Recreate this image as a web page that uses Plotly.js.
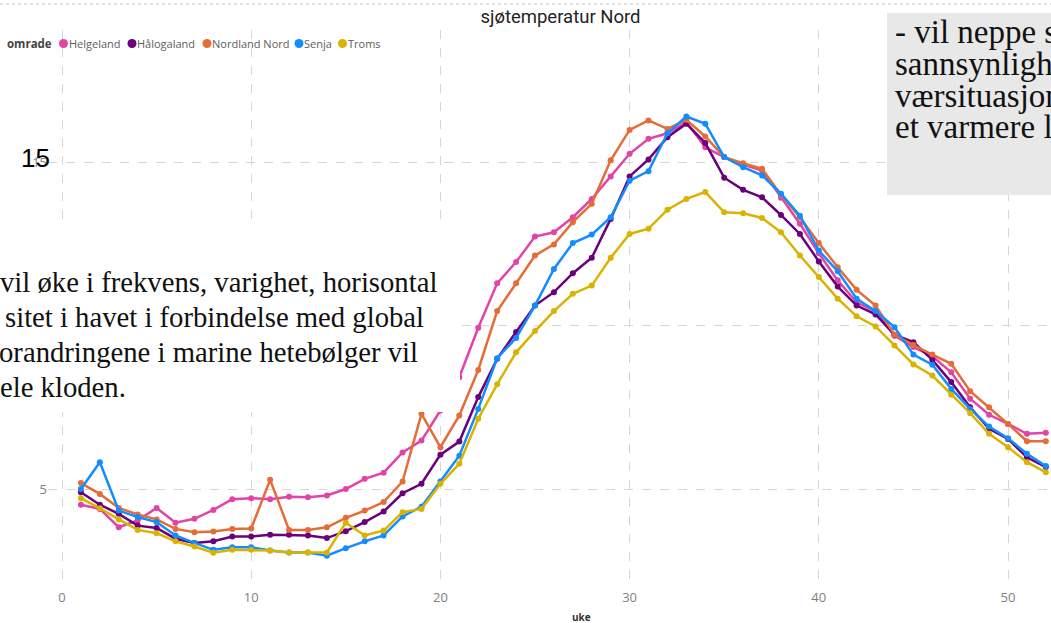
<!DOCTYPE html>
<html>
<head>
<meta charset="utf-8">
<script src="https://cdn.plot.ly/plotly-3.0.1.min.js"></script>
<style>
  html, body { margin: 0; padding: 0; background: #ffffff; overflow: hidden; }
  #chart { width: 1051px; height: 623px; }
</style>
</head>
<body>
<div id="chart"></div>
<script>
// ---------- data ----------
const weeks = [1,2,3,4,5,6,7,8,9,10,11,12,13,14,15,16,17,18,19,20,21,22,23,24,25,26,
               27,28,29,30,31,32,33,34,35,36,37,38,39,40,41,42,43,44,45,46,47,48,49,50,51,52];

const seriesNames = ["Helgeland", "Hålogaland", "Nordland Nord", "Senja", "Troms"];
const seriesColors = ["#E044A7", "#6B007B", "#E66C37", "#118DFF", "#D9B300"];

const helgeland = [4.52,4.39,3.83,4.04,4.42,3.97,4.09,4.36,4.69,4.72,4.69,4.76,4.75,4.80,5.00,5.31,5.50,6.12,6.48,7.40,
                   8.42,9.93,11.29,11.94,12.72,12.85,13.31,13.87,14.56,15.25,15.71,15.88,16.22,15.45,15.15,14.92,14.74,
                   13.91,13.11,12.21,11.38,10.71,10.43,9.69,9.34,9.06,8.57,7.76,7.27,6.99,6.69,6.72];

const haalogaland = [4.90,4.52,4.24,3.88,3.81,3.48,3.35,3.40,3.55,3.55,3.60,3.60,3.58,3.50,3.71,3.99,4.31,4.87,5.16,6.05,
                     6.45,7.81,8.98,9.80,10.61,11.02,11.60,12.07,13.26,14.56,15.08,15.76,16.17,15.58,14.52,14.15,13.92,
                     13.38,12.80,11.96,11.19,10.61,10.34,9.72,9.49,8.95,8.27,7.50,6.84,6.53,5.97,5.67];

const nordlandNord = [5.18,4.85,4.42,4.22,4.07,3.78,3.68,3.70,3.78,3.79,5.28,3.75,3.75,3.83,4.12,4.34,4.60,5.23,7.30,6.28,
                      7.25,8.64,10.44,11.29,12.14,12.48,13.16,13.72,15.05,15.98,16.27,16.01,16.29,15.78,15.15,14.96,14.79,
                      14.00,13.31,12.52,11.78,11.09,10.61,9.72,9.40,9.11,8.83,7.99,7.50,6.99,6.46,6.46];

const senja = [5.00,5.82,4.34,4.14,3.99,3.58,3.35,3.14,3.22,3.22,3.12,3.06,3.06,2.96,3.19,3.40,3.58,4.16,4.46,5.23,
               6.02,7.45,9.00,9.62,10.61,11.73,12.52,12.78,13.31,14.43,14.72,15.88,16.39,16.17,15.15,14.84,14.59,
               14.03,13.36,12.29,11.66,10.82,10.44,9.95,9.11,8.80,8.06,7.45,6.91,6.55,6.08,5.70];

const troms = [4.72,4.41,4.07,3.75,3.65,3.40,3.24,3.05,3.14,3.14,3.12,3.06,3.06,3.06,3.97,3.58,3.73,4.29,4.39,5.16,
               5.77,7.15,8.20,9.18,9.83,10.44,10.97,11.22,12.07,12.80,12.96,13.54,13.87,14.08,13.46,13.43,13.29,
               12.85,12.14,11.48,10.82,10.28,9.97,9.39,8.81,8.47,7.88,7.32,6.69,6.28,5.82,5.51];

const seriesValues = [helgeland, haalogaland, nordlandNord, senja, troms];

const yTickVals = [5, 10, 15];
const yTickText = ["5", "", "15"];   // "10" is hidden behind the slide text box in the reference

const chartTitle = "sjøtemperatur Nord";
const legendTitle = "omrade";
const xAxisTitle = "uke";
const overlayNumber = "15";
const leftTextLines = ["vil øke i frekvens, varighet, horisontal",
                       "sitet i havet i forbindelse med global",
                       "orandringene i marine hetebølger vil",
                       "ele kloden."];
const rightTextLines = ["- vil neppe s", "sannsynligh", "værsituasjon", "et varmere l"];

// ---------- layout helpers (pixel -> paper) ----------
const W = 1051, H = 623;
const M = {l: 48, r: 0, t: 30, b: 35};
const PW = W - M.l - M.r, PH = H - M.t - M.b;
const px = x => (x - M.l) / PW;
const py = y => (H - M.b - y) / PH;

// axis ranges chosen so the grid lands where the reference has it
const X0PX = 62, XSTEP = 18.92;     // week 0 at 62px, 18.92px per week
const Y0PX = 652.5, YSTEP = 32.7;   // 0 °C at 652.5px, 32.7px per degree
const xRange = [(M.l - X0PX) / XSTEP, (W - M.r - X0PX) / XSTEP];
const yRange = [(Y0PX - (H - M.b)) / YSTEP, (Y0PX - M.t) / YSTEP];

// ---------- traces ----------
const traces = seriesNames.map((name, i) => ({
  type: "scatter",
  mode: "lines+markers",
  name: name,
  x: weeks,
  y: seriesValues[i],
  line: {color: seriesColors[i], width: 2.5},
  marker: {color: seriesColors[i], size: 6},
  showlegend: false,
  hoverinfo: "skip"
}));

// ---------- annotations ----------
const annotations = [];
const shapes = [];

// legend row (Power BI style): title, then dot + name per series
const LEG_Y = 43.5;
const legendFont = {family: "Open Sans, Noto Sans, sans-serif", size: 11, color: "#605E5C"};
annotations.push({
  xref: "paper", yref: "paper", x: px(6), y: py(LEG_Y), xanchor: "left", yanchor: "middle",
  text: "<b>" + legendTitle + "</b>", showarrow: false, borderpad: 0,
  font: {family: "Open Sans, Noto Sans, sans-serif", size: 11.5, color: "#444444"}
});
const legendDotX = [63.5, 132, 207, 299, 342.5];
seriesNames.forEach((n, i) => {
  shapes.push({
    type: "circle", xref: "paper", yref: "paper",
    x0: px(legendDotX[i] - 4.5), x1: px(legendDotX[i] + 4.5),
    y0: py(LEG_Y + 4.5), y1: py(LEG_Y - 4.5),
    fillcolor: seriesColors[i], line: {width: 0}, layer: "above"
  });
  annotations.push({
    xref: "paper", yref: "paper", x: px(legendDotX[i] + 4), y: py(LEG_Y), xanchor: "left", yanchor: "middle",
    text: n, showarrow: false, font: legendFont, borderpad: 0
  });
});

// x-axis title
annotations.push({
  xref: "paper", yref: "paper", x: px(581), y: py(617), xanchor: "center", yanchor: "middle",
  text: "<b>" + xAxisTitle + "</b>", showarrow: false,
  font: {family: "Open Sans, Noto Sans, sans-serif", size: 10, color: "#333333"}
});

// large overlaid "15"
annotations.push({
  xref: "paper", yref: "paper", x: px(35), y: py(158), xanchor: "center", yanchor: "middle",
  text: overlayNumber, showarrow: false,
  font: {family: "Liberation Sans, Arial, sans-serif", size: 26, color: "#000000"}
});

// left slide text (cropped at the left edge)
const leftX = [-2, 3, -3, -2];
const leftY = [282, 317, 352, 387];
leftTextLines.forEach((t, i) => annotations.push({
  xref: "paper", yref: "paper", x: px(leftX[i]), y: py(leftY[i]), xanchor: "left", yanchor: "middle",
  text: t, showarrow: false,
  font: {family: "Liberation Serif, Times New Roman, serif", size: 28.7, color: "#111111"}
}));

// right slide text (cropped at the right edge)
const rightY = [32, 64, 96, 127];
rightTextLines.forEach((t, i) => annotations.push({
  xref: "paper", yref: "paper", x: px(893), y: py(rightY[i]), xanchor: "left", yanchor: "middle",
  text: t, showarrow: false,
  font: {family: "Liberation Serif, Times New Roman, serif", size: 33, color: "#111111"}
}));

// ---------- shapes ----------
shapes.push(
  // dotted border line at the very top
  {type: "line", xref: "paper", yref: "paper", x0: px(0), x1: px(W), y0: py(4), y1: py(4),
   line: {color: "#c4c4c4", width: 1, dash: "dot"}, layer: "above"},
  // white slide text box covering the chart
  {type: "rect", xref: "paper", yref: "paper", x0: px(-2), x1: px(460), y0: py(412), y1: py(223),
   fillcolor: "#ffffff", line: {width: 0}, layer: "above"},
  // grey slide text box, top right
  {type: "rect", xref: "paper", yref: "paper", x0: px(887), x1: px(W + 5), y0: py(195), y1: py(13),
   fillcolor: "#E8E8E8", line: {width: 0}, layer: "above"}
);

const layout = {
  width: W, height: H,
  margin: M,
  paper_bgcolor: "#ffffff",
  plot_bgcolor: "#ffffff",
  showlegend: false,
  title: {
    text: chartTitle,
    xref: "container", yref: "container",
    x: 560.5 / W, xanchor: "center",
    y: 1 - 17 / H, yanchor: "middle",
    font: {family: "Roboto, Open Sans, sans-serif", size: 18.5, color: "#252423"}
  },
  xaxis: {
    range: xRange,
    dtick: 10, tick0: 0,
    showgrid: true, gridcolor: "#d6d6d6", griddash: "dash", gridwidth: 1,
    zeroline: false, showline: false, ticks: "",
    tickfont: {family: "Open Sans, Noto Sans, sans-serif", size: 13, color: "#808080"}
  },
  yaxis: {
    range: yRange,
    tickmode: "array", tickvals: yTickVals, ticktext: yTickText,
    showgrid: true, gridcolor: "#d6d6d6", griddash: "dash", gridwidth: 1,
    zeroline: false, showline: false, ticks: "",
    tickfont: {family: "Open Sans, Noto Sans, sans-serif", size: 13, color: "#808080"}
  },
  annotations: annotations,
  shapes: shapes
};

Plotly.newPlot("chart", traces, layout, {staticPlot: true, displayModeBar: false});
</script>
</body>
</html>
